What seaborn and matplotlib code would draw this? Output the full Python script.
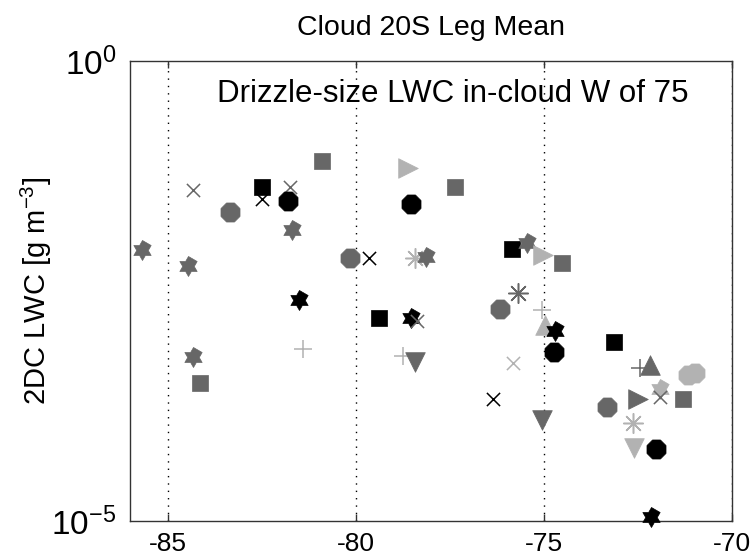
import numpy as np
import pandas as pd
import matplotlib
matplotlib.use("Agg")
import matplotlib.pyplot as plt
from matplotlib.path import Path
from matplotlib.ticker import NullLocator
import seaborn as sns

# Leg-mean drizzle-size liquid water content versus longitude
lon = [-84.33, -82.50, -82.50, -81.75, -81.80, -83.34, -81.70, -85.69, -84.45,
       -81.50, -81.39, -84.33, -84.14, -80.91, -78.60, -77.36, -78.52, -80.15,
       -79.64, -78.43, -78.12, -79.38, -78.52, -78.38, -78.74, -78.43, -75.86,
       -75.46, -75.02, -74.53, -75.68, -76.17, -75.06, -74.97, -74.70, -74.73,
       -73.14, -75.81, -76.34, -75.06, -72.44, -72.18, -71.18, -70.98, -71.91,
       -71.91, -72.49, -71.31, -73.33, -72.62, -72.60, -72.03, -72.16]
lwc = [4.0e-2, 3.2e-2, 4.3e-2, 4.3e-2, 3.0e-2, 2.3e-2, 1.45e-2, 8.9e-3, 5.9e-3,
       2.5e-3, 7.4e-4, 6.0e-4, 3.2e-4, 8.1e-2, 6.9e-2, 4.3e-2, 2.8e-2, 7.2e-3,
       7.2e-3, 7.2e-3, 7.4e-3, 1.6e-3, 1.6e-3, 1.5e-3, 6.2e-4, 5.4e-4, 9.1e-3,
       1.05e-2, 7.8e-3, 6.3e-3, 3.0e-3, 2.0e-3, 1.95e-3, 1.35e-3, 1.15e-3, 6.9e-4,
       8.9e-4, 5.2e-4, 2.1e-4, 1.26e-4, 4.6e-4, 5.0e-4, 3.85e-4, 4.1e-4, 2.7e-4,
       2.2e-4, 2.1e-4, 2.1e-4, 1.74e-4, 1.15e-4, 6.2e-5, 6.0e-5, 1.1e-5]
symbol = ["x", "x", "s", "x", "o", "o", "hex", "hex", "hex",
          "hex", "+", "hex", "s", "s", ">", "s", "o", "o",
          "x", "*", "hex", "s", "hex", "x", "+", "v", "s",
          "hex", ">", "s", "*", "o", "+", "^", "hex", "o",
          "s", "x", "x", "v", "+", "^", "o", "o", "hex",
          "x", ">", "s", "o", "*", "v", "o", "hex"]
shade = ["dark", "black", "black", "dark", "black", "dark", "dark", "dark", "dark",
         "black", "light", "dark", "dark", "dark", "light", "dark", "black", "dark",
         "black", "light", "dark", "black", "black", "dark", "light", "dark", "black",
         "dark", "light", "dark", "dark", "dark", "light", "light", "black", "black",
         "black", "light", "black", "dark", "dark", "dark", "light", "light", "light",
         "dark", "dark", "dark", "dark", "light", "light", "black", "black"]

df = pd.DataFrame({"lon": lon, "lwc": lwc, "symbol": symbol, "shade": shade})

# six-pointed star outline
ang = np.deg2rad(90 + 30 * np.arange(12))
rad = np.where(np.arange(12) % 2 == 0, 1.0, 1 / np.sqrt(3))
hexagram = Path(np.column_stack([rad * np.cos(ang), rad * np.sin(ang)]), closed=True)

marker_map = {"s": ("s", 133, True), "o": ("8", 220, True), "hex": (hexagram, 207, True),
              "^": ("^", 200, True), "v": ("v", 200, True), ">": (">", 200, True),
              "x": ("x", 90, False), "+": ("+", 185, False), "*": ((8, 2, 0), 200, False)}
colors = {"black": "#000000", "dark": "#676767", "light": "#b2b2b2"}

sns.set_theme(style="white", rc={"text.color": "black", "axes.labelcolor": "black",
                                 "xtick.color": "black", "ytick.color": "black"})
plt.rcParams["font.family"] = ["Liberation Sans", "DejaVu Sans"]
plt.rcParams["mathtext.fontset"] = "custom"
plt.rcParams["mathtext.rm"] = "Liberation Sans"
plt.rcParams["mathtext.it"] = "Liberation Sans:italic"
plt.rcParams["mathtext.bf"] = "Liberation Sans:bold"

fig = plt.figure(figsize=(7.54, 5.58), dpi=100)
ax = fig.add_axes([130 / 754, 1 - 521 / 558, 602 / 754, 460 / 558])

for i, row in df.iterrows():
    mk, size, filled = marker_map[row["symbol"]]
    col = colors[row["shade"]]
    kw = dict(edgecolor=col, linewidth=0.5) if filled else dict(linewidth=1.1)
    sns.scatterplot(x=[row["lon"]], y=[row["lwc"]], marker=mk, s=size, color=col,
                    ax=ax, zorder=3 + i, clip_on=False, legend=False, **kw)

ax.set_yscale("log")
ax.set_xlim(-86, -70)
ax.set_ylim(1e-5, 1e0)
ax.set_xticks([-85, -80, -75, -70])
ax.set_xticklabels(["-85", "-80", "-75", "-70"])
ax.set_yticks([1e-5, 1e0])
ax.yaxis.set_minor_locator(NullLocator())
ax.set_xlabel("")

ax.grid(axis="x", color="black", linestyle=(0, (1, 4.3)), linewidth=1.0)
ax.grid(axis="y", visible=False)
for sp in ax.spines.values():
    sp.set_color("#333333")
    sp.set_linewidth(1.0)

ax.tick_params(axis="x", direction="in", length=5, width=1, color="#333333",
               labelcolor="black", top=True, bottom=True, labelsize=19, pad=8)
ax.tick_params(axis="y", direction="in", length=0, labelcolor="black",
               labelsize=24, pad=10)

ax.set_ylabel("2DC LWC [g m$^{-3}$]", fontsize=21, color="black")
ax.yaxis.set_label_coords(-0.126, 0.5)
ax.set_title("Cloud 20S Leg Mean", fontsize=20.5, pad=19, color="black")
ax.text(0.1445, 0.911, "Drizzle-size LWC in-cloud W of 75", transform=ax.transAxes,
        fontsize=22.5, ha="left", va="baseline", color="black")

fig.savefig("out.png", dpi=100)
